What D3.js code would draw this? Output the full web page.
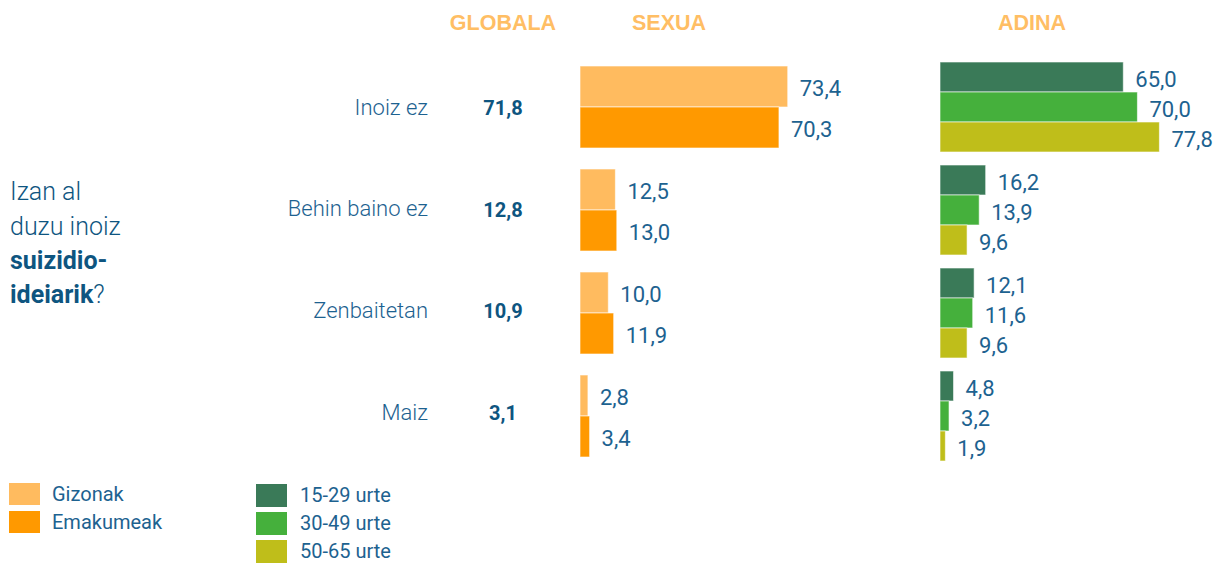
<!DOCTYPE html>
<html lang="eu">
<head>
<meta charset="UTF-8">
<title>Suizidio-ideiak</title>
<style>
  body { margin: 0; background: #fff; }
  svg text { font-family: Roboto, "Liberation Sans", sans-serif; }
</style>
</head>
<body>
<svg id="chart" width="1221" height="563"></svg>
<script src="https://cdn.jsdelivr.net/npm/d3@7/dist/d3.min.js"></script>
<script>
const categories = ["Inoiz ez", "Behin baino ez", "Zenbaitetan", "Maiz"];
const globalValues = [71.8, 12.8, 10.9, 3.1];

const sexSeries = ["Gizonak", "Emakumeak"];
const gizonak = [73.4, 12.5, 10.0, 2.8];
const emakumeak = [70.3, 13.0, 11.9, 3.4];

const ageSeries = ["15-29 urte", "30-49 urte", "50-65 urte"];
const age1529 = [65.0, 16.2, 12.1, 4.8];
const age3049 = [70.0, 13.9, 11.6, 3.2];
const age5065 = [77.8, 9.6, 9.6, 1.9];

const headers = ["GLOBALA", "SEXUA", "ADINA"];

const sexColors = ["#ffbb5f", "#ff9900"];
const ageColors = ["#3a7a58", "#45b03c", "#bfbe1a"];
const blue = "#1d6290";
const darkBlue = "#0e5580";

const fmt = v => d3.format(".1f")(v).replace(".", ",");

const svg = d3.select("#chart");

// group centers
const yGroup = d3.scalePoint().domain(categories).range([107, 416]);
const sexBand = d3.scaleBand().domain(sexSeries).range([-41, 41]);
const ageBand = d3.scaleBand().domain(ageSeries).range([-45, 45]);

const xSex = d3.scaleLinear().domain([0, 100]).range([580, 863]);
const xAge = d3.scaleLinear().domain([0, 100]).range([940, 1222]);

// labels sit a bit higher than the bar groups lower down
const labelY = (d, i) => yGroup(d) - i * 1.3;

// headers
const headerX = [503, 669, 1032];
svg.selectAll(".header")
  .data(headers)
  .enter()
  .append("text")
  .attr("class", "header")
  .attr("x", (d, i) => headerX[i])
  .attr("y", 30)
  .attr("text-anchor", "middle")
  .attr("fill", "#ffbe64")
  .attr("font-size", 21.5)
  .attr("font-weight", "bold")
  .style("font-family", "'Liberation Sans', Arial, sans-serif")
  .text(d => d);

// question on the left
const q = svg.append("text")
  .attr("x", 10)
  .attr("fill", darkBlue)
  .attr("font-size", 25);
q.append("tspan").attr("x", 10).attr("y", 200).attr("font-weight", 300).text("Izan al");
q.append("tspan").attr("x", 10).attr("y", 235).attr("font-weight", 300).text("duzu inoiz");
q.append("tspan").attr("x", 10).attr("y", 269).attr("font-weight", "bold").text("suizidio-");
const last = q.append("tspan").attr("x", 10).attr("y", 303);
last.append("tspan").attr("font-weight", "bold").text("ideiarik");
last.append("tspan").attr("font-weight", 300).text("?");

// category labels
svg.selectAll(".cat")
  .data(categories)
  .enter()
  .append("text")
  .attr("class", "cat")
  .attr("x", 428)
  .attr("y", labelY)
  .attr("dy", "0.35em")
  .attr("text-anchor", "end")
  .attr("fill", blue)
  .attr("font-size", 22)
  .attr("font-weight", 300)
  .text(d => d);

// global values
svg.selectAll(".glob")
  .data(globalValues)
  .enter()
  .append("text")
  .attr("class", "glob")
  .attr("x", 503)
  .attr("y", (d, i) => labelY(categories[i], i) + 1)
  .attr("dy", "0.35em")
  .attr("text-anchor", "middle")
  .attr("fill", darkBlue)
  .attr("font-size", 20)
  .attr("font-weight", "bold")
  .text(d => fmt(d));

// bars helper
function drawSeries(values, series, band, xScale, color, cls) {
  const g = svg.append("g").attr("class", cls);
  g.selectAll("rect")
    .data(values)
    .enter()
    .append("rect")
    .attr("x", xScale(0))
    .attr("y", (d, i) => yGroup(categories[i]) + band(series))
    .attr("width", d => xScale(d) - xScale(0))
    .attr("height", band.bandwidth())
    .attr("fill", color)
    .attr("stroke", "rgba(255,255,255,0.6)")
    .attr("stroke-width", 1);
  g.selectAll("text")
    .data(values)
    .enter()
    .append("text")
    .attr("x", d => xScale(d) + 12)
    .attr("y", (d, i) => yGroup(categories[i]) + band(series) + band.bandwidth() / 2 + 2)
    .attr("dy", "0.35em")
    .attr("fill", blue)
    .attr("font-size", 22)
    .text(d => fmt(d));
}

drawSeries(gizonak, "Gizonak", sexBand, xSex, sexColors[0], "sex-g");
drawSeries(emakumeak, "Emakumeak", sexBand, xSex, sexColors[1], "sex-e");
drawSeries(age1529, "15-29 urte", ageBand, xAge, ageColors[0], "age-1");
drawSeries(age3049, "30-49 urte", ageBand, xAge, ageColors[1], "age-2");
drawSeries(age5065, "50-65 urte", ageBand, xAge, ageColors[2], "age-3");

// legends
const sexLeg = svg.append("g").attr("transform", "translate(9,483)");
sexSeries.forEach((s, i) => {
  sexLeg.append("rect").attr("x", 0).attr("y", i * 28).attr("width", 31).attr("height", 22).attr("fill", sexColors[i]);
  sexLeg.append("text").attr("x", 43).attr("y", i * 28 + 11).attr("dy", "0.35em")
    .attr("fill", blue).attr("font-size", 20).text(s);
});

const ageLeg = svg.append("g").attr("transform", "translate(256,484)");
ageSeries.forEach((s, i) => {
  ageLeg.append("rect").attr("x", 0).attr("y", i * 28).attr("width", 31).attr("height", 23).attr("fill", ageColors[i]);
  ageLeg.append("text").attr("x", 44).attr("y", i * 28 + 12).attr("dy", "0.32em")
    .attr("fill", blue).attr("font-size", 20).text(s);
});
</script>
</body>
</html>
